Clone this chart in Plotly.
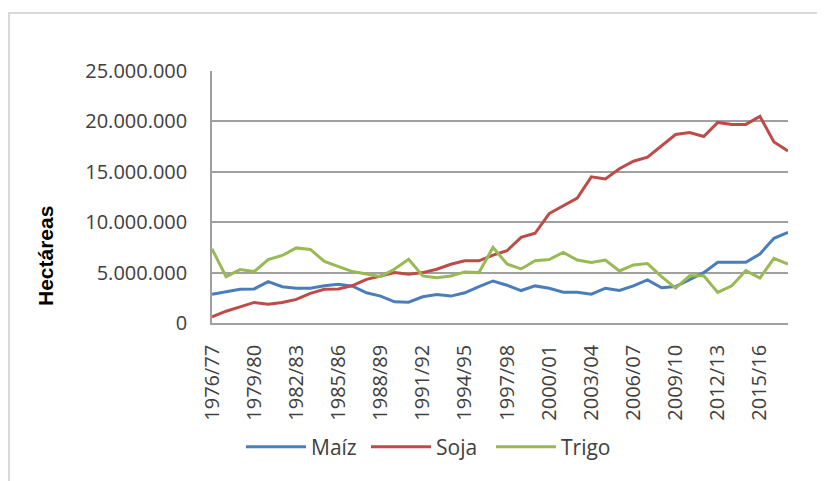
import plotly.graph_objects as go

seasons = [f"{y}/{str(y + 1)[-2:]}" for y in range(1976, 2018)]

maiz = [2840000, 3080000, 3340000, 3380000, 4100000, 3600000, 3450000, 3450000, 3700000, 3850000,
        3650000, 3000000, 2670000, 2100000, 2070000, 2600000, 2830000, 2670000, 3000000, 3600000,
        4170000, 3750000, 3220000, 3680000, 3450000, 3060000, 3060000, 2860000, 3450000, 3220000,
        3680000, 4280000, 3500000, 3620000, 4350000, 5000000, 6030000, 6030000, 6030000, 6850000,
        8400000, 9000000]

soja = [600000, 1170000, 1600000, 2040000, 1870000, 2040000, 2340000, 2940000, 3340000, 3380000,
        3720000, 4330000, 4670000, 5000000, 4830000, 5000000, 5330000, 5830000, 6170000, 6170000,
        6730000, 7170000, 8500000, 8900000, 10860000, 11600000, 12400000, 14500000, 14300000, 15300000,
        16050000, 16450000, 17600000, 18700000, 18900000, 18500000, 19900000, 19700000, 19700000, 20500000,
        17960000, 17070000]

trigo = [7360000, 4600000, 5300000, 5100000, 6300000, 6700000, 7450000, 7300000, 6100000, 5600000,
         5100000, 4860000, 4600000, 5350000, 6330000, 4670000, 4500000, 4670000, 5070000, 5000000,
         7500000, 5850000, 5360000, 6180000, 6300000, 7000000, 6250000, 6000000, 6250000, 5160000,
         5760000, 5900000, 4600000, 3460000, 4680000, 4680000, 3030000, 3690000, 5200000, 4450000,
         6420000, 5830000]

y_ticks = [0, 5000000, 10000000, 15000000, 20000000, 25000000]
x_ticks = seasons[::3]

series = [("Maíz", maiz, "#4A7EBB"), ("Soja", soja, "#BE4B48"), ("Trigo", trigo, "#98B954")]

OFF = 8  # page body margin
W, H = 825 - OFF, 481 - OFF
L, R, T, B = 212 - OFF, 788 - OFF, 71 - OFF, 323 - OFF

fig = go.Figure()
for name, vals, col in series:
    fig.add_trace(go.Scatter(x=seasons, y=vals, name=name, mode="lines",
                             line=dict(color=col, width=3)))

txt = "#404040"
font_name = "Open Sans"

def px_x(p):
    return (p - OFF - L) / (R - L)

def px_y(p):
    return (B - (p - OFF)) / (B - T)

fig.update_layout(
    width=W, height=H,
    margin=dict(l=L, r=W - R, t=T, b=H - B, pad=0),
    paper_bgcolor="white", plot_bgcolor="white",
    separators=",.",
    font=dict(family=font_name, size=20, color=txt),
    showlegend=True,
    legend=dict(orientation="h", x=px_x(241), xanchor="left", y=px_y(447), yanchor="middle",
                font=dict(family=font_name, size=21, color=txt), itemwidth=60,
                entrywidth=50, entrywidthmode="pixels",
                bgcolor="rgba(0,0,0,0)"),
    xaxis=dict(type="category", range=[0, len(seasons) - 1], tickmode="array",
               tickvals=x_ticks, ticktext=x_ticks, tickangle=-90, showgrid=False,
               showline=True, linecolor="#a0a0a0", linewidth=1.5, ticks="",
               ticklabelstandoff=12, tickfont=dict(size=20, color=txt)),
    yaxis=dict(range=[0, 25000000], tickmode="array", tickvals=y_ticks, tickformat=",d",
               showgrid=True, gridcolor="#a0a0a0", gridwidth=1.5, zeroline=False,
               showline=True, linecolor="#a0a0a0", linewidth=1.5, ticks="",
               ticklabelstandoff=19, tickfont=dict(size=20, color=txt)),
    annotations=[dict(text="<b>Hectáreas</b>", x=px_x(45), y=px_y(256), xref="paper", yref="paper",
                      xanchor="center", yanchor="middle",
                      textangle=-90, showarrow=False, font=dict(family="Liberation Sans", size=21, color="#000000"))],
    shapes=[
        dict(type="line", xref="paper", yref="paper", x0=px_x(8), x1=px_x(830), y0=px_y(13), y1=px_y(13),
             line=dict(color="#d9d9d9", width=2)),
        dict(type="line", xref="paper", yref="paper", x0=px_x(9), x1=px_x(9), y0=px_y(13), y1=px_y(490),
             line=dict(color="#d9d9d9", width=2)),
    ],
)

fig.write_html("out.html")
